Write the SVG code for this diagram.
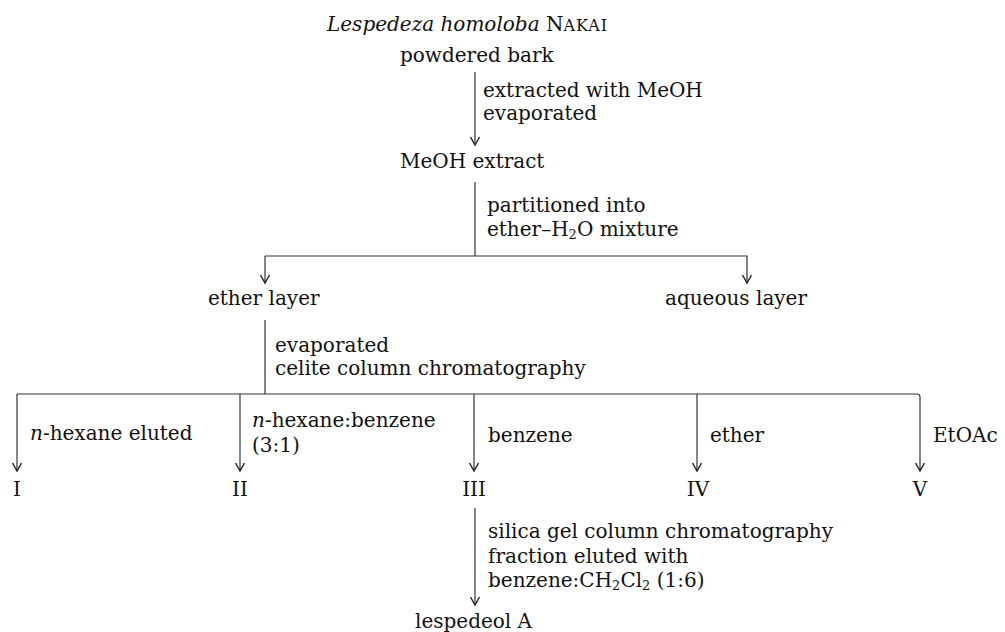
<svg xmlns="http://www.w3.org/2000/svg" width="1005" height="632" viewBox="0 0 1005 632">
<defs>
<style>
text{font-family:"DejaVu Serif","Liberation Serif",serif;font-size:20px;fill:#111}
.it{font-style:italic}
.sc{font-size:16px;letter-spacing:1px}
.sub{font-size:13px}
.ln{stroke:#333;stroke-width:1.2;fill:none}
</style>
<marker id="ah" viewBox="-10 -6 12 12" markerWidth="12" markerHeight="12" refX="0" refY="0" markerUnits="userSpaceOnUse" orient="auto">
<path d="M-8,-4.5 L0,0 L-8,4.5" stroke="#222" stroke-width="1.4" fill="none"/>
</marker>
</defs>
<rect width="1005" height="632" fill="#fff"/>
<g id="connectors">
<line class="ln" x1="475" y1="72" x2="475" y2="145" marker-end="url(#ah)"/>
<line class="ln" x1="475" y1="182" x2="475" y2="256"/>
<polyline class="ln" points="265,256 747,256 747,283" marker-end="url(#ah)"/>
<line class="ln" x1="265" y1="256" x2="265" y2="283" marker-end="url(#ah)"/>
<line class="ln" x1="265" y1="320" x2="265" y2="394"/>
<path class="ln" d="M17,394 L917,394 Q920,394 920,397 L920,471" marker-end="url(#ah)"/>
<line class="ln" x1="17" y1="394" x2="17" y2="471" marker-end="url(#ah)"/>
<line class="ln" x1="240" y1="394" x2="240" y2="471" marker-end="url(#ah)"/>
<line class="ln" x1="474" y1="394" x2="474" y2="471" marker-end="url(#ah)"/>
<line class="ln" x1="697" y1="394" x2="697" y2="471" marker-end="url(#ah)"/>
<line class="ln" x1="475" y1="508" x2="475" y2="605" marker-end="url(#ah)"/>
</g>
<g id="n-source">
<text x="327" y="31"><tspan class="it">Lespedeza homoloba</tspan> N<tspan class="sc">AKAI</tspan></text>
<text x="400" y="62">powdered bark</text>
</g>
<g id="e-extract-label">
<text x="483" y="97">extracted with MeOH</text>
<text x="483" y="120">evaporated</text>
</g>
<g id="n-meoh">
<text x="400" y="168">MeOH extract</text>
</g>
<g id="e-partition-label">
<text x="487" y="212">partitioned into</text>
<text x="487" y="236">ether–H<tspan class="sub" dy="3">2</tspan><tspan dy="-3">O mixture</tspan></text>
</g>
<g id="n-ether">
<text x="208" y="305">ether layer</text>
</g>
<g id="n-aqueous">
<text x="665" y="305">aqueous layer</text>
</g>
<g id="e-celite-label">
<text x="275" y="352">evaporated</text>
<text x="275" y="375">celite column chromatography</text>
</g>
<g id="e-labels">
<text x="30" y="440"><tspan class="it">n</tspan>-hexane eluted</text>
<text x="252" y="427"><tspan class="it">n</tspan>-hexane:benzene</text>
<text x="252" y="452">(3:1)</text>
<text x="488" y="442">benzene</text>
<text x="710" y="442">ether</text>
<text x="933" y="442">EtOAc</text>
</g>
<g id="n-I"><text x="17" y="496" text-anchor="middle">I</text></g>
<g id="n-II"><text x="240" y="496" text-anchor="middle">II</text></g>
<g id="n-III"><text x="474" y="496" text-anchor="middle">III</text></g>
<g id="n-IV"><text x="698" y="496" text-anchor="middle">IV</text></g>
<g id="n-V"><text x="920" y="496" text-anchor="middle">V</text></g>
<g id="e-silica-label">
<text x="488" y="538">silica gel column chromatography</text>
<text x="488" y="563">fraction eluted with</text>
<text x="488" y="587">benzene:CH<tspan class="sub" dy="3">2</tspan><tspan dy="-3">Cl</tspan><tspan class="sub" dy="3">2</tspan><tspan dy="-3"> (1:6)</tspan></text>
</g>
<g id="n-lespedeol">
<text x="415" y="628">lespedeol A</text>
</g>
</svg>
